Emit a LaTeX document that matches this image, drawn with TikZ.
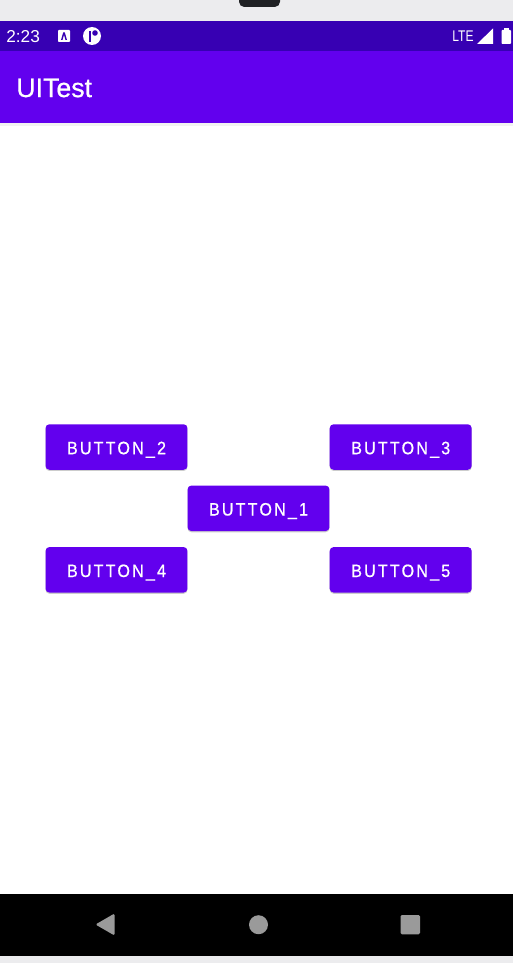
\documentclass[tikz,border=0pt]{standalone}
\usepackage{fontspec}
\setmainfont{Liberation Sans}
\newfontfamily\buttonfont[LetterSpace=12, FakeBold=0.7, FakeStretch=0.9]{Liberation Sans}
\newfontfamily\titlefont[FakeBold=0.6]{Liberation Sans}
\newfontfamily\ltefont[FakeStretch=0.78]{Liberation Sans}
\usetikzlibrary{shadows}
\definecolor{purplebar}{HTML}{6200EE}
\definecolor{purpledark}{HTML}{3700B3}
\definecolor{framegray}{HTML}{ECECEE}
\definecolor{navgray}{HTML}{9A9A9A}
\definecolor{notchgray}{HTML}{202124}
\tikzset{
    uibutton/.style={fill=purplebar, rounded corners=2.2pt, minimum width=2.84cm, minimum height=0.91cm,
        inner sep=0pt, text=white, text height=8.2pt, text depth=0pt, font=\buttonfont\fontsize{10.2}{12}\selectfont,
        drop shadow={shadow xshift=0pt, shadow yshift=-0.7pt, opacity=0.2, fill=black}},
    statustext/.style={text=white, inner sep=0pt, font=\fontsize{9.8}{12}\selectfont},
    navicon/.style={fill=navgray, rounded corners=0.8pt}
}
\begin{document}
\begin{tikzpicture}[x=0.02cm, y=-0.02cm]
    \useasboundingbox (0, 0) rectangle (513, 963);

    % phone frame
    \fill[white] (0, 0) rectangle (513, 963);
    \fill[framegray] (0, 0) rectangle (513, 21);
    \fill[framegray] (0, 956) rectangle (513, 963);
    \fill[notchgray, rounded corners=3pt] (239, -8) rectangle (280, 7);

    % app bar
    \fill[black, opacity=0.05] (0, 122) rectangle (513, 126);
    \fill[purplebar] (0, 51) rectangle (513, 122.5);
    \fill[purpledark] (0, 21) rectangle (513, 51);
    \node[statustext, anchor=west] (clock) at (6, 36.5) {2:23};
    \node[text=white, inner sep=0pt, anchor=west, font=\titlefont\fontsize{15.2}{18}\selectfont] (title) at (16, 88) {UITest};

    % status icons
    \fill[white, rounded corners=0.5pt] (58, 30) rectangle (70, 42);
    \fill[purpledark] (61, 40) -- (63.2, 32.5) -- (64.8, 32.5) -- (67, 40) -- (65.5, 40) -- (64, 34.8) -- (62.5, 40) -- cycle;
    \fill[white] (92, 36) circle (9);
    \fill[purpledark] (88.5, 31) rectangle (91, 42);
    \fill[purpledark] (95, 33) circle (2.8);
    \node[statustext, anchor=west, font=\ltefont\fontsize{8.8}{10}\selectfont] (lte) at (452, 36.5) {LTE};
    \fill[white] (477, 44) -- (493, 28.5) -- (493, 44) -- cycle;
    \fill[white, rounded corners=0.5pt] (501.5, 30) rectangle (511, 44);
    \fill[white] (504, 28) rectangle (508.5, 31);

    % buttons
    \node[uibutton] (button1) at (258.5, 508.3) {BUTTON\_1};
    \node[uibutton] (button2) at (116.5, 447) {BUTTON\_2};
    \node[uibutton] (button3) at (400.7, 447) {BUTTON\_3};
    \node[uibutton] (button4) at (116.5, 569.8) {BUTTON\_4};
    \node[uibutton] (button5) at (400.7, 569.8) {BUTTON\_5};

    % navigation bar
    \fill[black] (0, 894) rectangle (513, 956);
    \fill[navicon] (95.5, 924.5) -- (114.5, 913.5) -- (114.5, 935.5) -- cycle;
    \fill[navgray] (258.5, 924.7) circle (9.5);
    \fill[navicon] (400.5, 915) rectangle (420, 934.3);
\end{tikzpicture}
\end{document}
